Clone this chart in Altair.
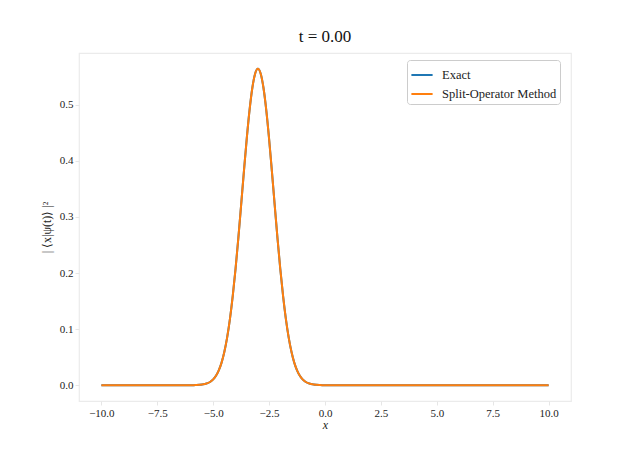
import altair as alt
import pandas as pd

# x positions
xs = [-10.0, -7.0, -6.0, -5.875, -5.75, -5.625, -5.5, -5.375, -5.25, -5.125, -5.0,
      -4.875, -4.75, -4.625, -4.5, -4.375, -4.25, -4.125, -4.0,
      -3.875, -3.75, -3.625, -3.5, -3.375, -3.25, -3.125, -3.0,
      -2.875, -2.75, -2.625, -2.5, -2.375, -2.25, -2.125, -2.0,
      -1.875, -1.75, -1.625, -1.5, -1.375, -1.25, -1.125, -1.0,
      -0.875, -0.75, -0.625, -0.5, -0.375, -0.25, -0.125, 0.0, 1.0, 10.0]
# |<x|psi(t)>|^2 values
exact = [0.0, 0.0, 0.0001, 0.0001, 0.0003, 0.0006, 0.0011, 0.0021, 0.0036, 0.0062, 0.0103,
         0.0168, 0.0264, 0.0402, 0.0595, 0.0852, 0.1182, 0.1592, 0.2075,
         0.2624, 0.3215, 0.3817, 0.4394, 0.4902, 0.5300, 0.5555, 0.5642,
         0.5555, 0.5300, 0.4902, 0.4394, 0.3817, 0.3215, 0.2624, 0.2075,
         0.1592, 0.1182, 0.0852, 0.0595, 0.0402, 0.0264, 0.0168, 0.0103,
         0.0062, 0.0036, 0.0021, 0.0011, 0.0006, 0.0003, 0.0001, 0.0001, 0.0, 0.0]
split = list(exact)

series_names = ["Exact", "Split-Operator Method"]
series_colors = ["#1f77b4", "#ff7f0e"]
x_ticks = [-10.0, -7.5, -5.0, -2.5, 0.0, 2.5, 5.0, 7.5, 10.0]
y_ticks = [0.0, 0.1, 0.2, 0.3, 0.4, 0.5]

rows = []
for i, (x, y) in enumerate(zip(xs, exact)):
    rows.append({"x": x, "y": y, "series": series_names[0], "o": i})
for i, (x, y) in enumerate(zip(xs, split)):
    rows.append({"x": x, "y": y, "series": series_names[1], "o": i})
df = pd.DataFrame(rows)

FONT = "Liberation Serif, Times New Roman, serif"

chart = alt.Chart(df).mark_line(strokeWidth=2, interpolate="monotone").encode(
    x=alt.X("x:Q",
            scale=alt.Scale(domain=[-11, 11], nice=False, zero=False),
            axis=alt.Axis(values=x_ticks, format=".1f", title="x",
                          titleFontStyle="italic", titlePadding=1)),
    y=alt.Y("y:Q",
            scale=alt.Scale(domain=[-0.0282, 0.5924], nice=False, zero=False),
            axis=alt.Axis(values=y_ticks, format=".1f",
                          title="| ⟨x|ψ(t)⟩ |²", titlePadding=6)),
    color=alt.Color("series:N",
                    scale=alt.Scale(domain=series_names, range=series_colors),
                    legend=alt.Legend(title=None, orient="none", legendX=328, legendY=7,
                                      symbolType="stroke", symbolStrokeWidth=2,
                                      symbolSize=450, fillColor="white",
                                      strokeColor="#cccccc", cornerRadius=3,
                                      padding=3, labelFontSize=12.5, labelFont=FONT,
                                      rowPadding=-8, labelOffset=8,
                                      labelColor="#222222")),
    order=alt.Order("o:Q"),
    detail="series:N",
).properties(
    width=492, height=348,
    title=alt.Title("t = 0.00", font=FONT, fontSize=17, fontWeight="normal",
                    color="#111111", offset=7),
    autosize=alt.AutoSizeParams(type="none"),
    padding={"left": 71, "top": 45, "right": 55, "bottom": 41},
).configure_title(
    font=FONT, fontWeight="normal"
).configure_view(
    stroke="#ebebeb", strokeWidth=1.2
).configure_axis(
    grid=False, domain=False, tickColor="#e6e6e6", tickSize=4, tickWidth=1,
    labelFont=FONT, labelFontSize=11, labelColor="#222222", labelPadding=2,
    titleFont=FONT, titleFontSize=12, titleFontWeight="normal", titleColor="#222222",
)

chart.save("out.html", embed_options={"renderer": "svg", "actions": False})
